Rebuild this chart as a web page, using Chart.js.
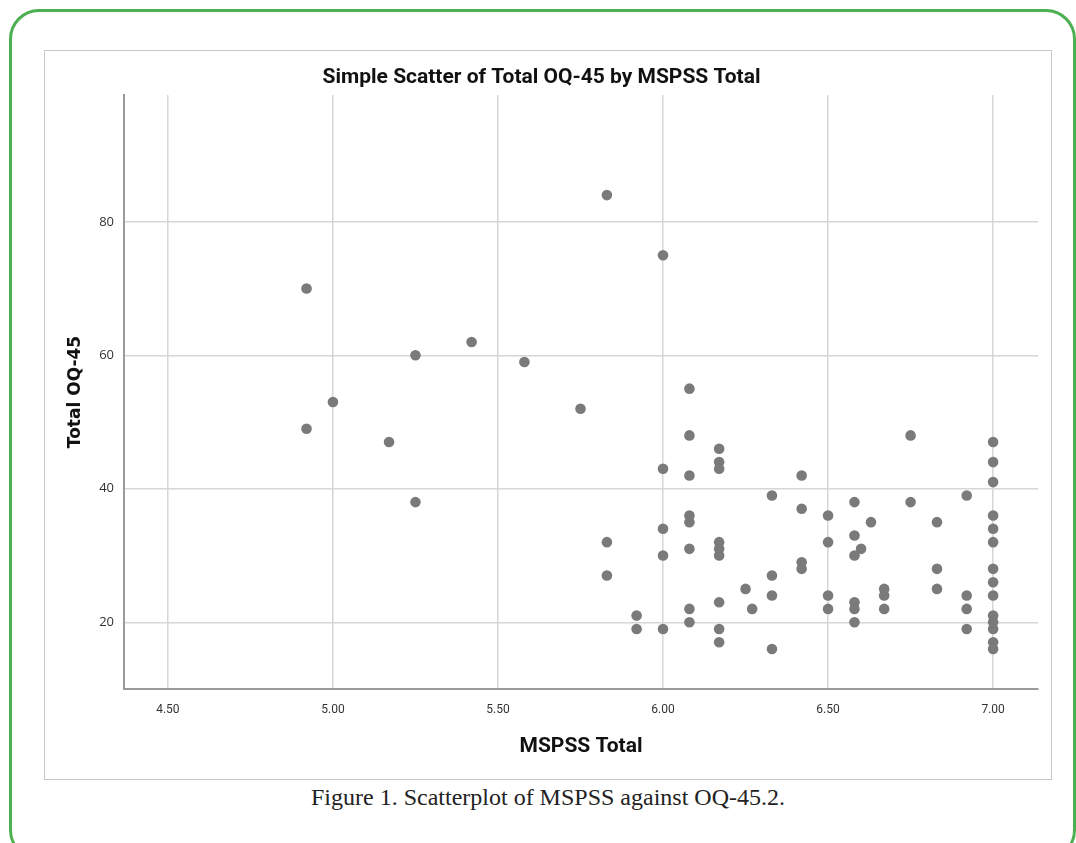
<!DOCTYPE html>
<html>
<head>
<meta charset="utf-8">
<script src="https://cdn.jsdelivr.net/npm/chart.js@4"></script>
<style>
  body { margin: 0; background: #fff; width: 1076px; height: 843px; overflow: hidden; position: relative; }
  .frame { position: absolute; left: 9px; top: 9px; width: 1061px; height: 845px; border: 3px solid #4caf50; border-radius: 30px; }
  .box { position: absolute; left: 44px; top: 50px; width: 1006px; height: 728px; border: 1px solid #c8c8c8; }
  .box canvas { position: absolute; left: 0; top: 0; }
  .caption { position: absolute; left: 0; width: 1096px; top: 784px; text-align: center;
    font-family: "Liberation Serif", serif; font-size: 24px; color: #222; }
</style>
</head>
<body>
<div class="frame"></div>
<div class="box"><canvas id="scatterChart" width="1006" height="728"></canvas></div>
<div class="caption">Figure 1. Scatterplot of MSPSS against OQ-45.2.</div>
<script>
// MSPSS Total (x) and Total OQ-45 (y), one entry per respondent
const mspssTotal = [
  4.92, 4.92, 5.00, 5.17, 5.25, 5.25, 5.42, 5.58, 5.75, 5.83, 5.83, 5.83, 5.92, 5.92,
  6.00, 6.00, 6.00, 6.00, 6.00,
  6.08, 6.08, 6.08, 6.08, 6.08, 6.08, 6.08, 6.08,
  6.17, 6.17, 6.17, 6.17, 6.17, 6.17, 6.17, 6.17, 6.17,
  6.25, 6.27,
  6.33, 6.33, 6.33, 6.33,
  6.42, 6.42, 6.42, 6.42,
  6.50, 6.50, 6.50, 6.50,
  6.58, 6.58, 6.58, 6.58, 6.58, 6.58,
  6.60, 6.63,
  6.67, 6.67, 6.67,
  6.75, 6.75,
  6.83, 6.83, 6.83,
  6.92, 6.92, 6.92, 6.92,
  7.00, 7.00, 7.00, 7.00, 7.00, 7.00, 7.00, 7.00, 7.00, 7.00, 7.00, 7.00, 7.00, 7.00
];
const oqTotal = [
  70, 49, 53, 47, 60, 38, 62, 59, 52, 84, 32, 27, 21, 19,
  75, 43, 34, 30, 19,
  55, 48, 42, 36, 35, 31, 22, 20,
  46, 44, 43, 32, 31, 30, 23, 19, 17,
  25, 22,
  39, 27, 24, 16,
  42, 37, 29, 28,
  36, 32, 24, 22,
  38, 33, 30, 23, 22, 20,
  31, 35,
  25, 24, 22,
  48, 38,
  35, 28, 25,
  39, 24, 22, 19,
  47, 44, 41, 36, 34, 32, 28, 26, 24, 21, 20, 19, 17, 16
];
const xTicks = [4.5, 5.0, 5.5, 6.0, 6.5, 7.0];
const yTicks = [20, 40, 60, 80];

const points = mspssTotal.map(function(x, i) { return { x: x, y: oqTotal[i] }; });

const ctx = document.getElementById('scatterChart').getContext('2d');
new Chart(ctx, {
  type: 'scatter',
  data: {
    datasets: [{
      data: points,
      backgroundColor: '#7a7a7a',
      borderColor: '#7a7a7a',
      borderWidth: 0,
      pointRadius: 5.3,
      pointHoverRadius: 5.3
    }]
  },
  options: {
    responsive: false,
    animation: false,
    layout: { padding: { left: 0, right: 13, top: 0, bottom: 0 } },
    plugins: {
      legend: { display: false },
      tooltip: { enabled: false },
      title: {
        display: true,
        text: 'Simple Scatter of Total OQ-45 by MSPSS Total',
        color: '#111',
        font: { family: 'Roboto, sans-serif', size: 21, weight: 'bold', lineHeight: 1 },
        padding: { top: 16, bottom: 7 }
      }
    },
    scales: {
      x: {
        type: 'linear',
        min: 4.367,
        max: 7.136,
        afterBuildTicks: function(scale) { scale.ticks = xTicks.map(function(v) { return { value: v }; }); },
        afterFit: function(scale) { scale.height = 90; },
        grid: { color: '#d6d6d6', lineWidth: 1.5, drawTicks: false },
        border: { color: '#9a9a9a', width: 2 },
        ticks: {
          padding: 14,
          color: '#333',
          font: { family: 'Roboto, sans-serif', size: 12 },
          callback: function(v) { return Number(v).toFixed(2); }
        },
        title: {
          display: true,
          text: 'MSPSS Total',
          color: '#111',
          font: { family: 'Roboto, sans-serif', size: 21, weight: 'bold' },
          padding: { top: 0, bottom: 20 }
        }
      },
      y: {
        type: 'linear',
        min: 10,
        max: 99,
        afterBuildTicks: function(scale) { scale.ticks = yTicks.map(function(v) { return { value: v }; }); },
        afterFit: function(scale) { scale.width = 79; },
        grid: { color: '#d6d6d6', lineWidth: 1.5, drawTicks: false },
        border: { color: '#9a9a9a', width: 2 },
        ticks: {
          padding: 10,
          color: '#333',
          font: { family: '"Open Sans", sans-serif', size: 13 }
        },
        title: {
          display: true,
          text: 'Total OQ-45',
          color: '#111',
          font: { family: '"DejaVu Sans", sans-serif', size: 17, weight: 'bold' },
          padding: { top: 20, bottom: 0 }
        }
      }
    }
  }
});
</script>
</body>
</html>
